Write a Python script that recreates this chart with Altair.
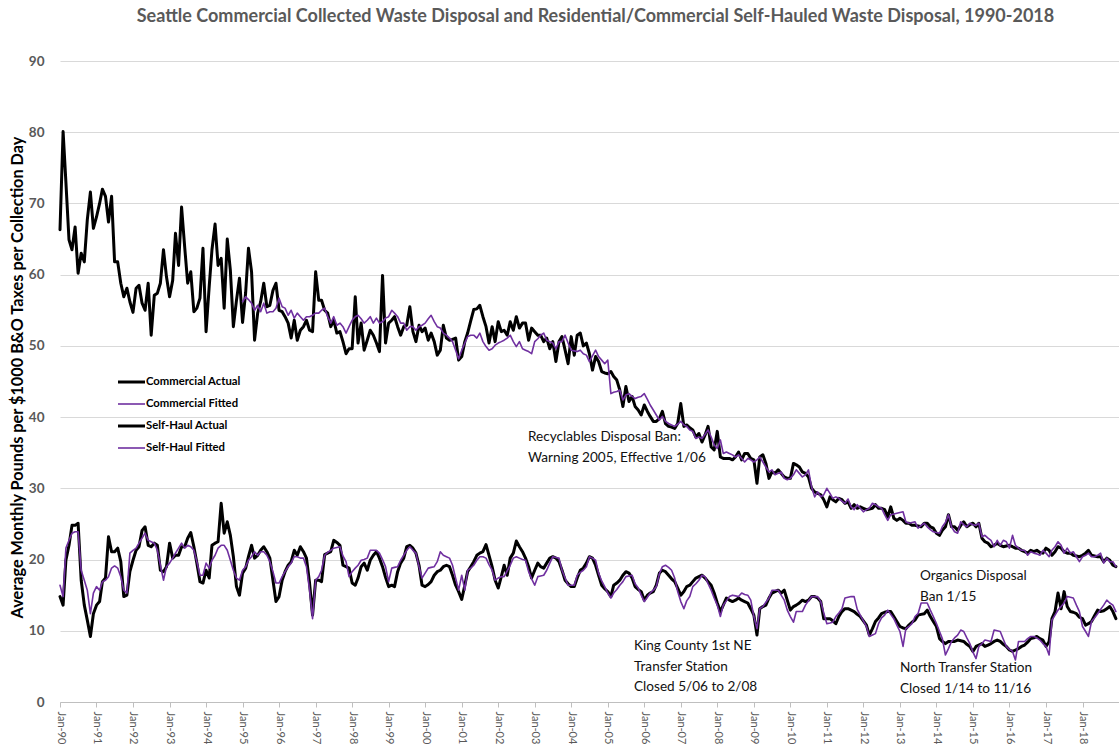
import altair as alt
import pandas as pd

# Monthly observations, Jan 1990 - Dec 2018 (one row of 12 values per year)
commercial_actual = [
    66.3, 80.1, 73.0, 64.9, 63.5, 66.7, 60.2, 63.0, 61.8, 67.7, 71.6, 66.5,
    68.1, 70.0, 72.0, 71.0, 67.4, 71.0, 61.8, 61.8, 58.8, 56.9, 58.1, 56.2,
    54.7, 58.1, 58.5, 56.0, 55.0, 58.8, 51.5, 57.1, 57.4, 58.8, 63.5, 59.7,
    56.9, 59.2, 65.8, 61.3, 69.5, 63.9, 58.8, 60.4, 54.8, 55.3, 56.7, 63.7,
    52.0, 58.3, 63.5, 67.1, 61.3, 62.3, 55.3, 65.0, 60.6, 52.7, 56.4, 59.5,
    53.3, 57.5, 63.7, 60.4, 50.8, 54.6, 56.2, 58.8, 55.5, 55.7, 57.8, 58.8,
    55.0, 54.8, 54.1, 53.2, 51.1, 53.6, 50.8, 52.2, 52.7, 53.6, 52.2, 52.0,
    60.4, 56.4, 56.4, 55.0, 54.6, 52.7, 53.6, 51.8, 52.0, 50.6, 48.9, 49.6,
    49.6, 56.9, 50.4, 53.2, 49.4, 50.8, 52.2, 51.5, 50.4, 49.2, 59.9, 50.4,
    53.2, 53.6, 54.1, 52.7, 51.5, 52.7, 52.9, 55.5, 52.0, 50.6, 52.9, 52.0,
    52.5, 50.8, 51.8, 50.6, 48.7, 49.4, 52.9, 51.1, 50.8, 50.9, 51.1, 48.0,
    48.5, 50.6, 51.8, 53.5, 55.1, 55.2, 55.7, 54.1, 52.7, 50.4, 52.7, 50.6,
    53.4, 52.0, 52.2, 51.5, 53.4, 52.2, 54.1, 52.5, 53.2, 53.2, 50.8, 52.5,
    52.0, 51.5, 51.5, 50.6, 51.1, 49.6, 50.6, 47.8, 50.6, 51.3, 49.4, 47.5,
    51.3, 48.7, 51.5, 51.8, 50.0, 50.4, 48.9, 46.6, 48.5, 47.8, 46.4, 46.2,
    46.1, 46.4, 45.7, 45.2, 43.8, 41.5, 44.3, 42.2, 42.9, 41.5, 41.0, 40.3,
    41.7, 40.8, 40.1, 39.4, 39.4, 39.8, 40.8, 39.1, 38.7, 38.6, 38.4, 39.1,
    41.9, 38.7, 38.9, 38.5, 38.2, 37.2, 37.7, 36.5, 37.5, 38.7, 35.8, 35.4,
    38.0, 34.4, 34.2, 34.2, 34.2, 34.0, 34.4, 35.1, 34.0, 34.9, 34.9, 34.2,
    34.0, 30.7, 34.4, 34.7, 33.5, 31.4, 32.3, 32.1, 32.6, 32.1, 31.6, 31.4,
    31.4, 33.5, 33.3, 33.0, 32.3, 32.1, 31.6, 30.0, 29.5, 29.3, 29.1, 28.4,
    27.4, 28.8, 28.4, 28.1, 28.6, 28.4, 27.9, 28.1, 27.2, 27.7, 27.2, 27.4,
    27.2, 27.0, 27.1, 27.2, 27.7, 27.2, 27.2, 27.0, 26.0, 27.4, 25.8, 25.5,
    25.8, 25.5, 25.1, 25.1, 24.8, 24.8, 24.7, 24.6, 25.1, 25.1, 24.6, 24.4,
    23.7, 23.4, 24.1, 24.6, 26.3, 24.6, 24.6, 24.1, 24.8, 25.3, 24.6, 24.9,
    25.1, 24.6, 25.1, 23.0, 22.5, 22.3, 21.8, 22.0, 22.3, 22.0, 21.8, 21.9,
    22.0, 21.8, 21.6, 21.6, 21.3, 21.1, 20.9, 21.3, 21.1, 21.3, 21.0, 20.9,
    21.6, 21.3, 20.6, 21.1, 21.8, 21.6, 21.1, 20.9, 20.9, 20.6, 20.5, 20.4,
    20.6, 20.9, 21.3, 20.6, 20.5, 20.4, 20.4, 19.7, 20.2, 19.9, 19.2, 19.0,
]

# Model output starts in Jan 1995
commercial_fitted = [
    56.2, 56.9, 56.5, 56.0, 55.0, 55.7, 54.8, 56.0, 54.6, 54.8, 54.8, 55.3,
    56.7, 55.5, 55.3, 54.3, 55.0, 53.9, 54.6, 54.1, 53.6, 54.1, 54.1, 54.3,
    54.6, 54.6, 55.0, 55.3, 54.1, 53.2, 54.1, 52.9, 53.2, 52.7, 51.8, 52.7,
    53.6, 54.1, 54.3, 53.8, 53.2, 53.6, 54.1, 53.2, 53.9, 53.2, 53.4, 53.9,
    54.1, 55.0, 54.6, 54.1, 53.2, 53.2, 52.2, 52.7, 52.7, 52.2, 52.7, 52.9,
    53.2, 53.8, 54.3, 53.4, 52.7, 52.5, 51.8, 51.5, 51.1, 50.6, 49.4, 48.2,
    49.4, 50.4, 51.3, 51.5, 51.5, 51.1, 51.8, 50.6, 49.9, 49.4, 49.6, 50.1,
    50.4, 50.6, 50.8, 51.1, 51.5, 50.6, 49.9, 50.6, 49.6, 49.4, 49.2, 48.9,
    50.6, 51.0, 51.5, 51.8, 50.8, 50.6, 50.4, 49.6, 50.6, 50.6, 51.5, 50.4,
    49.4, 49.3, 49.2, 49.4, 48.9, 48.7, 47.8, 48.6, 49.4, 48.5, 48.0, 47.5,
    48.0, 43.3, 43.5, 43.6, 43.8, 42.4, 43.1, 43.3, 42.9, 42.6, 42.8, 42.9,
    43.3, 42.5, 41.7, 41.0, 40.3, 39.6, 40.1, 39.4, 39.1, 38.9, 38.7, 39.0,
    39.4, 38.9, 38.7, 38.2, 38.0, 37.0, 37.2, 37.0, 37.6, 38.2, 37.2, 36.1,
    35.6, 36.8, 34.9, 35.1, 34.9, 34.7, 34.4, 34.7, 34.2, 33.7, 34.2, 34.0,
    33.7, 34.0, 34.4, 33.7, 33.0, 32.3, 32.6, 31.9, 32.1, 32.3, 31.4, 31.2,
    31.4, 31.9, 32.6, 32.1, 31.6, 31.9, 32.6, 30.2, 28.8, 29.5, 28.8, 29.1,
    30.0, 29.3, 28.6, 28.8, 28.6, 28.2, 27.9, 28.5, 27.4, 27.0, 27.7, 27.2,
    26.7, 27.0, 27.2, 27.9, 27.7, 27.4, 27.2, 26.3, 25.5, 26.3, 26.4, 26.5,
    26.6, 26.7, 25.3, 25.1, 25.2, 25.3, 24.4, 24.8, 25.1, 24.6, 24.2, 23.9,
    23.8, 23.7, 24.6, 25.2, 26.3, 24.6, 23.9, 23.7, 25.3, 24.9, 24.6, 25.1,
    24.9, 24.8, 25.1, 23.2, 23.4, 23.0, 22.7, 21.8, 22.7, 22.0, 22.7, 22.5,
    21.6, 23.4, 22.0, 21.6, 21.3, 21.3, 20.6, 21.1, 20.9, 20.8, 20.6, 21.3,
    20.9, 20.4, 21.3, 21.8, 22.5, 22.0, 20.9, 21.6, 20.9, 21.1, 20.4, 19.7,
    20.4, 20.6, 20.9, 20.4, 20.4, 20.6, 20.9, 19.5, 20.2, 19.7, 19.7, 19.0,
]

self_haul_actual = [
    14.8, 13.6, 19.9, 22.0, 24.8, 24.8, 25.1, 17.1, 13.6, 11.5, 9.2, 12.4,
    13.6, 14.1, 16.9, 17.4, 23.2, 21.1, 21.1, 21.6, 19.7, 14.8, 15.0, 18.3,
    19.9, 21.3, 21.8, 24.1, 24.6, 22.0, 21.8, 22.3, 22.0, 18.5, 18.3, 19.0,
    22.3, 20.2, 20.6, 20.6, 21.8, 21.8, 23.0, 23.8, 21.8, 19.5, 16.9, 16.7,
    18.5, 17.4, 22.0, 22.3, 22.5, 27.9, 23.7, 25.3, 23.4, 20.4, 16.2, 15.0,
    18.1, 18.8, 20.4, 22.0, 20.2, 20.6, 21.3, 21.8, 21.1, 20.2, 17.1, 14.1,
    14.8, 17.1, 18.3, 19.2, 19.7, 21.3, 20.6, 21.8, 21.1, 20.2, 16.7, 12.2,
    17.1, 17.1, 16.9, 20.7, 20.9, 21.1, 22.7, 22.4, 22.0, 19.2, 19.0, 18.8,
    16.7, 16.4, 17.4, 19.0, 19.5, 18.5, 19.9, 20.6, 21.1, 20.2, 19.0, 17.5,
    16.2, 16.4, 16.2, 18.3, 19.5, 20.2, 21.8, 22.0, 21.6, 20.9, 19.2, 16.4,
    16.2, 16.5, 16.9, 17.8, 18.3, 18.5, 19.0, 19.2, 19.0, 17.8, 16.4, 15.5,
    14.4, 16.4, 18.3, 19.0, 19.7, 20.6, 20.9, 21.1, 22.1, 20.6, 19.0, 17.1,
    16.0, 17.6, 19.2, 17.8, 20.2, 20.9, 22.6, 21.8, 21.1, 20.2, 19.0, 17.4,
    18.5, 19.5, 19.0, 18.8, 19.5, 20.2, 20.4, 20.2, 19.7, 18.5, 17.1, 16.6,
    16.2, 16.2, 17.4, 18.5, 18.8, 19.5, 20.4, 20.2, 19.2, 17.8, 16.4, 15.9,
    15.5, 14.8, 16.4, 16.7, 17.1, 17.8, 18.3, 18.1, 17.4, 16.2, 15.8, 15.5,
    14.3, 15.0, 15.3, 15.5, 16.4, 18.1, 18.5, 18.3, 17.8, 17.3, 16.9, 16.0,
    15.0, 15.5, 16.2, 16.4, 16.9, 17.4, 17.6, 17.8, 17.4, 16.9, 16.4, 15.3,
    13.9, 12.7, 13.6, 14.6, 14.3, 14.1, 14.3, 14.6, 14.3, 14.1, 13.9, 13.1,
    12.2, 9.4, 13.1, 13.4, 13.6, 14.6, 15.3, 15.5, 15.7, 15.3, 15.7, 14.3,
    12.9, 13.4, 13.6, 13.9, 14.3, 14.1, 14.3, 14.8, 14.8, 14.6, 14.1, 11.7,
    11.7, 11.7, 11.4, 11.0, 12.0, 12.7, 13.1, 13.1, 12.9, 12.7, 12.3, 12.0,
    11.4, 10.8, 9.4, 10.3, 11.3, 11.8, 12.4, 12.6, 12.7, 12.7, 12.0, 11.3,
    10.6, 10.4, 10.3, 10.8, 11.2, 11.5, 12.2, 12.3, 12.4, 12.9, 12.0, 11.3,
    10.6, 8.9, 8.5, 8.2, 8.5, 8.5, 8.5, 8.7, 8.6, 8.5, 8.1, 7.8,
    7.1, 7.8, 8.0, 8.2, 7.8, 8.0, 8.2, 8.5, 8.7, 8.5, 8.1, 7.8,
    7.3, 7.1, 7.3, 7.5, 7.8, 8.0, 8.4, 8.9, 9.0, 9.2, 8.9, 8.7,
    7.8, 8.5, 11.7, 12.7, 15.3, 13.1, 15.5, 13.4, 12.7, 12.6, 12.4, 11.9,
    11.7, 10.8, 11.0, 11.3, 12.1, 12.9, 12.7, 12.8, 13.1, 13.4, 12.7, 11.7,
]

self_haul_fitted = [
    16.4, 14.8, 21.6, 22.7, 23.7, 23.9, 23.9, 18.5, 17.1, 15.7, 12.4, 15.3,
    16.2, 15.7, 16.9, 17.1, 17.6, 18.8, 19.1, 18.8, 17.6, 15.7, 15.3, 20.9,
    21.3, 21.6, 22.3, 23.0, 23.7, 22.7, 22.5, 22.3, 21.3, 19.2, 17.1, 19.0,
    19.5, 20.2, 20.9, 21.6, 22.3, 21.6, 22.0, 21.8, 21.3, 19.7, 17.8, 17.8,
    19.5, 18.8, 19.9, 20.6, 21.6, 22.0, 22.0, 21.3, 19.9, 18.5, 17.4, 17.1,
    18.5, 19.0, 19.9, 20.4, 21.1, 20.6, 21.1, 21.1, 20.6, 19.7, 18.3, 16.7,
    16.7, 17.6, 18.3, 19.0, 19.5, 20.4, 20.4, 20.2, 20.2, 19.0, 15.7, 11.7,
    17.1, 17.6, 18.5, 20.6, 21.0, 21.3, 21.6, 21.7, 21.8, 20.5, 19.7, 17.6,
    18.3, 18.8, 19.2, 19.9, 20.0, 20.2, 21.3, 21.3, 21.3, 20.9, 20.0, 19.0,
    16.9, 18.8, 18.9, 19.0, 19.9, 20.6, 21.3, 21.8, 21.3, 20.9, 19.0, 17.4,
    18.1, 18.8, 18.9, 19.0, 19.7, 21.1, 20.6, 20.4, 20.2, 19.2, 17.4, 15.7,
    17.8, 15.7, 18.5, 18.8, 19.2, 19.9, 20.4, 20.4, 20.2, 19.3, 18.5, 17.1,
    17.4, 17.6, 17.6, 18.4, 19.2, 20.2, 20.4, 20.2, 20.0, 19.9, 18.3, 17.3,
    16.4, 17.6, 17.7, 17.8, 18.5, 19.5, 20.4, 20.3, 20.2, 18.5, 17.4, 16.4,
    16.4, 16.4, 17.8, 18.2, 18.5, 19.0, 20.4, 20.2, 19.9, 18.1, 17.0, 16.2,
    15.3, 14.6, 15.3, 15.8, 16.4, 16.9, 17.6, 17.7, 17.8, 16.6, 16.0, 15.0,
    14.1, 14.7, 15.3, 15.7, 16.2, 18.0, 19.0, 19.2, 18.9, 18.5, 17.4, 15.5,
    14.1, 13.1, 14.2, 14.8, 16.2, 16.6, 17.1, 17.8, 17.6, 16.6, 15.7, 14.6,
    13.6, 12.0, 13.6, 14.2, 14.8, 15.0, 14.9, 14.8, 15.3, 15.1, 15.0, 14.3,
    12.0, 10.3, 13.1, 13.4, 14.0, 14.6, 15.7, 15.7, 15.7, 15.0, 14.3, 12.9,
    12.0, 11.2, 12.7, 12.7, 12.7, 13.6, 14.2, 14.8, 14.8, 14.8, 14.1, 12.5,
    11.0, 11.1, 11.2, 12.0, 12.5, 13.1, 14.6, 14.7, 14.8, 14.8, 13.0, 12.2,
    11.4, 10.6, 9.2, 9.4, 9.6, 11.0, 11.8, 12.2, 12.9, 12.3, 11.7, 10.8,
    9.9, 7.8, 10.3, 10.6, 11.0, 12.0, 12.4, 13.9, 13.9, 13.9, 12.9, 12.0,
    11.0, 9.9, 8.9, 6.6, 7.5, 8.5, 9.0, 9.4, 10.1, 9.9, 9.0, 8.2,
    7.0, 6.1, 7.8, 8.2, 8.7, 8.6, 8.5, 10.1, 10.0, 9.9, 8.8, 7.8,
    7.4, 7.1, 5.9, 8.5, 8.5, 8.5, 8.9, 9.2, 9.2, 9.0, 8.7, 8.2,
    7.8, 6.6, 11.5, 12.2, 12.9, 13.4, 13.9, 14.8, 14.7, 14.6, 13.6, 12.7,
    10.6, 9.9, 9.2, 11.3, 11.8, 12.4, 13.0, 13.6, 14.3, 13.9, 13.6, 12.7,
]

series_names = ["Commercial Actual", "Commercial Fitted", "Self-Haul Actual", "Self-Haul Fitted"]
series_values = [commercial_actual, commercial_fitted, self_haul_actual, self_haul_fitted]
series_start = [0, 60, 0, 0]  # month offset from Jan 1990

annotations = [
    ["Recyclables Disposal Ban:", "Warning 2005, Effective 1/06"],
    ["King County 1st NE", "Transfer Station", "Closed 5/06 to 2/08"],
    ["Organics Disposal", "Ban 1/15"],
    ["North Transfer Station", "Closed 1/14 to 11/16"],
]

months = pd.date_range("1990-01-01", "2018-12-01", freq="MS")
frames = []
for name, vals, start in zip(series_names, series_values, series_start):
    frames.append(pd.DataFrame({
        "month": months[start:start + len(vals)],
        "value": vals,
        "series": name,
    }))
df = pd.concat(frames, ignore_index=True)

FONT = "Lato"
GREY = "#595959"
PURPLE = "#7030A0"
styles = {
    "Commercial Actual": ("#000000", 3.0),
    "Commercial Fitted": (PURPLE, 1.6),
    "Self-Haul Actual": ("#000000", 3.0),
    "Self-Haul Fitted": (PURPLE, 1.6),
}

x_enc = alt.X(
    "month:T",
    title=None,
    scale=alt.Scale(domain=[alt.DateTime(year=1990, month=1, date=1),
                            alt.DateTime(year=2019, month=1, date=1)]),
    axis=alt.Axis(
        values=[alt.DateTime(year=y, month=1, date=1) for y in range(1990, 2019)],
        format="%b-%y", labelAngle=90, labelFont=FONT, labelFontSize=11,
        labelColor=GREY, labelPadding=4, domainColor="#bfbfbf",
        tickColor="#bfbfbf", tickSize=5, grid=False, labelOverlap=False,
    ),
)
y_enc = alt.Y(
    "value:Q",
    title="Average Monthly Pounds per $1000 B&O Taxes per Collection Day",
    scale=alt.Scale(domain=[0, 90], nice=False),
    axis=alt.Axis(
        values=list(range(0, 91, 10)), labelFont=FONT, labelFontSize=13.5,
        labelFontWeight="bold", labelColor=GREY, labelPadding=16,
        ticks=False, tickSize=0, domain=False, gridColor="#d9d9d9",
        gridWidth=1, titleFont=FONT, titleFontSize=16.3, titleFontWeight="bold",
        titleColor="#000000", titlePadding=3, titleY=316,
    ),
)

layers = []
for name in series_names:
    color, width = styles[name]
    layers.append(
        alt.Chart(df)
        .transform_filter(alt.datum.series == name)
        .mark_line(color=color, strokeWidth=width, strokeJoin="round", strokeCap="round")
        .encode(x=x_enc, y=y_enc)
    )

# Legend drawn inside the plot area
one = pd.DataFrame({"k": [0]})
for i, name in enumerate(series_names):
    color, width = styles[name]
    yy = 321 + 22 * i
    layers.append(
        alt.Chart(one).mark_rule(color=color, strokeWidth=width)
        .encode(x=alt.value(58), x2=alt.value(85), y=alt.value(yy))
    )
    layers.append(
        alt.Chart(one).mark_text(align="left", baseline="middle", font=FONT,
                                 fontSize=11.3, fontWeight="bold", color="#000000")
        .encode(x=alt.value(86), y=alt.value(yy), text=alt.value(name))
    )

# Event annotations
note_pos = [(468, 376), (574, 585), (860, 515), (840, 607)]
for lines, (px, py) in zip(annotations, note_pos):
    layers.append(
        alt.Chart(one).mark_text(align="left", baseline="middle", font=FONT,
                                 fontSize=13.6, lineHeight=20.5, color="#111111")
        .encode(x=alt.value(px), y=alt.value(py), text=alt.value(lines))
    )

chart = (
    alt.layer(*layers)
    .properties(
        width=1059,
        height=641,
        title=alt.Title(
            "Seattle Commercial Collected Waste Disposal and Residential/Commercial Self-Hauled Waste Disposal, 1990-2018",
            font=FONT, fontSize=18, fontWeight="bold", color=GREY,
            anchor="middle", offset=28, dx=6,
        ),
        autosize=alt.AutoSizeParams(type="none"),
        padding={"left": 60, "top": 61, "right": 0, "bottom": 48},
        background="white",
    )
    .configure_view(strokeWidth=0)
)

chart.save("out.html", embed_options={"renderer": "svg", "actions": False})
